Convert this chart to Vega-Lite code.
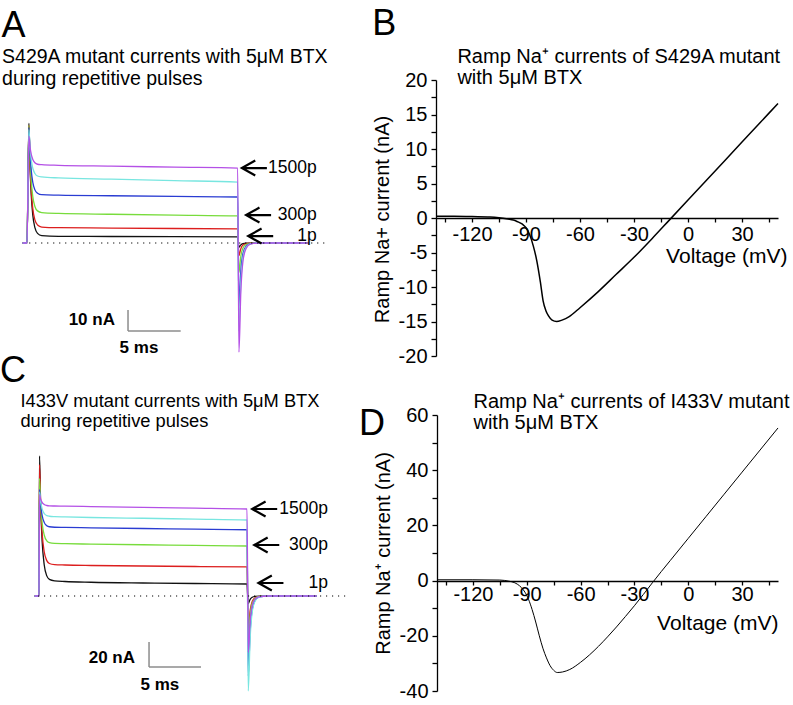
{
  "$schema": "https://vega.github.io/schema/vega-lite/v6.json",
  "width": 793,
  "height": 705,
  "autosize": {"type": "none"},
  "padding": 0,
  "background": "white",
  "config": {
    "view": {"stroke": null},
    "font": "Liberation Sans",
    "axis": {"domainColor": "black", "tickColor": "black", "labelColor": "black", "titleColor": "black", "domainWidth": 1.3, "tickWidth": 1.3, "grid": false, "labelFontSize": 20, "titleFontSize": 20, "titleFontWeight": "normal", "labelOverlap": false, "labelFlush": false, "labelBound": false, "labelFont": "Liberation Sans", "titleFont": "Liberation Sans"}
  },
  "datasets": {
    "traceA": [
      {"trace":"1","t":-0.42,"I":0},{"trace":"1","t":0,"I":0},{"trace":"1","t":0.18,"I":57},{"trace":"1","t":0.28,"I":37.4},{"trace":"1","t":0.4,"I":23.1},{"trace":"1","t":0.55,"I":13.3},{"trace":"1","t":0.75,"I":7.3},{"trace":"1","t":1.0,"I":4.6},{"trace":"1","t":1.4,"I":3.5},{"trace":"1","t":3,"I":3.2},{"trace":"1","t":8,"I":3.1},{"trace":"1","t":14,"I":3.0},{"trace":"1","t":20,"I":2.9},{"trace":"1","t":20.12,"I":-2},{"trace":"1","t":20.3,"I":-0.9},{"trace":"1","t":20.5,"I":-0.34},{"trace":"1","t":20.8,"I":-0.1},{"trace":"1","t":21.2,"I":-0.02},{"trace":"1","t":22,"I":0},{"trace":"1","t":26.7,"I":0},
      {"trace":"2","t":-0.42,"I":0},{"trace":"2","t":0,"I":0},{"trace":"2","t":0.18,"I":56},{"trace":"2","t":0.28,"I":38.3},{"trace":"2","t":0.4,"I":25.3},{"trace":"2","t":0.55,"I":16.4},{"trace":"2","t":0.75,"I":11.0},{"trace":"2","t":1.0,"I":8.6},{"trace":"2","t":1.4,"I":7.6},{"trace":"2","t":3,"I":7.3},{"trace":"2","t":8,"I":7.1},{"trace":"2","t":14,"I":6.9},{"trace":"2","t":20,"I":6.7},{"trace":"2","t":20.12,"I":-6},{"trace":"2","t":20.3,"I":-2.7},{"trace":"2","t":20.5,"I":-1.0},{"trace":"2","t":20.8,"I":-0.3},{"trace":"2","t":21.2,"I":-0.06},{"trace":"2","t":22,"I":0},{"trace":"2","t":26.7,"I":0},
      {"trace":"3","t":-0.42,"I":0},{"trace":"3","t":0,"I":0},{"trace":"3","t":0.18,"I":56},{"trace":"3","t":0.28,"I":40.8},{"trace":"3","t":0.4,"I":29.6},{"trace":"3","t":0.55,"I":22.1},{"trace":"3","t":0.75,"I":17.4},{"trace":"3","t":1.0,"I":15.3},{"trace":"3","t":1.4,"I":14.5},{"trace":"3","t":3,"I":14.1},{"trace":"3","t":8,"I":13.7},{"trace":"3","t":14,"I":13.3},{"trace":"3","t":20,"I":12.9},{"trace":"3","t":20.12,"I":-14},{"trace":"3","t":20.3,"I":-6.3},{"trace":"3","t":20.5,"I":-2.4},{"trace":"3","t":20.8,"I":-0.7},{"trace":"3","t":21.2,"I":-0.14},{"trace":"3","t":22,"I":0},{"trace":"3","t":26.7,"I":0},
      {"trace":"4","t":-0.42,"I":0},{"trace":"4","t":0,"I":0},{"trace":"4","t":0.18,"I":55},{"trace":"4","t":0.28,"I":43.3},{"trace":"4","t":0.4,"I":34.7},{"trace":"4","t":0.55,"I":28.9},{"trace":"4","t":0.75,"I":25.3},{"trace":"4","t":1.0,"I":23.7},{"trace":"4","t":1.4,"I":23.0},{"trace":"4","t":3,"I":22.8},{"trace":"4","t":8,"I":22.5},{"trace":"4","t":14,"I":22.2},{"trace":"4","t":20,"I":21.9},{"trace":"4","t":20.12,"I":-30},{"trace":"4","t":20.3,"I":-13.5},{"trace":"4","t":20.5,"I":-5.1},{"trace":"4","t":20.8,"I":-1.5},{"trace":"4","t":21.2,"I":-0.3},{"trace":"4","t":22,"I":0},{"trace":"4","t":26.7,"I":0},
      {"trace":"5","t":-0.42,"I":0},{"trace":"5","t":0,"I":0},{"trace":"5","t":0.18,"I":54},{"trace":"5","t":0.28,"I":45.8},{"trace":"5","t":0.4,"I":39.7},{"trace":"5","t":0.55,"I":35.6},{"trace":"5","t":0.75,"I":33.1},{"trace":"5","t":1.0,"I":31.9},{"trace":"5","t":1.4,"I":31.5},{"trace":"5","t":3,"I":31.0},{"trace":"5","t":8,"I":30.4},{"trace":"5","t":14,"I":29.7},{"trace":"5","t":20,"I":29.0},{"trace":"5","t":20.12,"I":-42},{"trace":"5","t":20.3,"I":-18.9},{"trace":"5","t":20.5,"I":-7.1},{"trace":"5","t":20.8,"I":-2.1},{"trace":"5","t":21.2,"I":-0.42},{"trace":"5","t":22,"I":0},{"trace":"5","t":26.7,"I":0},
      {"trace":"6","t":-0.42,"I":0},{"trace":"6","t":0,"I":0},{"trace":"6","t":0.18,"I":51},{"trace":"6","t":0.28,"I":46.0},{"trace":"6","t":0.4,"I":42.3},{"trace":"6","t":0.55,"I":39.8},{"trace":"6","t":0.75,"I":38.2},{"trace":"6","t":1.0,"I":37.5},{"trace":"6","t":1.4,"I":37.3},{"trace":"6","t":3,"I":37.0},{"trace":"6","t":8,"I":36.6},{"trace":"6","t":14,"I":36.1},{"trace":"6","t":20,"I":35.7},{"trace":"6","t":20.12,"I":-52},{"trace":"6","t":20.3,"I":-23.4},{"trace":"6","t":20.5,"I":-8.8},{"trace":"6","t":20.8,"I":-2.6},{"trace":"6","t":21.2,"I":-0.52},{"trace":"6","t":22,"I":0},{"trace":"6","t":26.7,"I":0}
    ],
    "traceC": [
      {"trace":"1","t":-0.42,"I":0},{"trace":"1","t":0,"I":0},{"trace":"1","t":0.05,"I":112},{"trace":"1","t":0.15,"I":75.5},{"trace":"1","t":0.3,"I":44},{"trace":"1","t":0.5,"I":25},{"trace":"1","t":0.75,"I":16.1},{"trace":"1","t":1.0,"I":13.3},{"trace":"1","t":1.5,"I":12.1},{"trace":"1","t":2.5,"I":11.6},{"trace":"1","t":5,"I":11.0},{"trace":"1","t":10,"I":10.4},{"trace":"1","t":15,"I":10.0},{"trace":"1","t":20,"I":9.6},{"trace":"1","t":20.12,"I":-6},{"trace":"1","t":20.3,"I":-2.7},{"trace":"1","t":20.5,"I":-1.0},{"trace":"1","t":20.8,"I":-0.3},{"trace":"1","t":21.2,"I":-0.06},{"trace":"1","t":22,"I":0},{"trace":"1","t":26.7,"I":0},
      {"trace":"2","t":-0.42,"I":0},{"trace":"2","t":0,"I":0},{"trace":"2","t":0.05,"I":105},{"trace":"2","t":0.15,"I":75.8},{"trace":"2","t":0.3,"I":50.6},{"trace":"2","t":0.5,"I":35.4},{"trace":"2","t":0.75,"I":28.3},{"trace":"2","t":1.0,"I":26.0},{"trace":"2","t":1.5,"I":25.1},{"trace":"2","t":2.5,"I":24.8},{"trace":"2","t":5,"I":24.4},{"trace":"2","t":10,"I":24.0},{"trace":"2","t":15,"I":23.6},{"trace":"2","t":20,"I":23.3},{"trace":"2","t":20.12,"I":-26},{"trace":"2","t":20.3,"I":-11.7},{"trace":"2","t":20.5,"I":-4.4},{"trace":"2","t":20.8,"I":-1.3},{"trace":"2","t":21.2,"I":-0.26},{"trace":"2","t":22,"I":0},{"trace":"2","t":26.7,"I":0},
      {"trace":"3","t":-0.42,"I":0},{"trace":"3","t":0,"I":0},{"trace":"3","t":0.05,"I":94},{"trace":"3","t":0.15,"I":75.0},{"trace":"3","t":0.3,"I":58.6},{"trace":"3","t":0.5,"I":48.8},{"trace":"3","t":0.75,"I":44.1},{"trace":"3","t":1.0,"I":42.7},{"trace":"3","t":1.5,"I":42.1},{"trace":"3","t":2.5,"I":41.9},{"trace":"3","t":5,"I":41.5},{"trace":"3","t":10,"I":41.0},{"trace":"3","t":15,"I":40.5},{"trace":"3","t":20,"I":40.0},{"trace":"3","t":20.12,"I":-35},{"trace":"3","t":20.3,"I":-15.8},{"trace":"3","t":20.5,"I":-6.0},{"trace":"3","t":20.8,"I":-1.75},{"trace":"3","t":21.2,"I":-0.35},{"trace":"3","t":22,"I":0},{"trace":"3","t":26.7,"I":0},
      {"trace":"4","t":-0.42,"I":0},{"trace":"4","t":0,"I":0},{"trace":"4","t":0.05,"I":85},{"trace":"4","t":0.15,"I":74.1},{"trace":"4","t":0.3,"I":64.6},{"trace":"4","t":0.5,"I":58.9},{"trace":"4","t":0.75,"I":56.2},{"trace":"4","t":1.0,"I":55.4},{"trace":"4","t":1.5,"I":55.0},{"trace":"4","t":2.5,"I":54.9},{"trace":"4","t":5,"I":54.5},{"trace":"4","t":10,"I":54.0},{"trace":"4","t":15,"I":53.5},{"trace":"4","t":20,"I":53.0},{"trace":"4","t":20.12,"I":-64},{"trace":"4","t":20.3,"I":-28.8},{"trace":"4","t":20.5,"I":-10.9},{"trace":"4","t":20.8,"I":-3.2},{"trace":"4","t":21.2,"I":-0.64},{"trace":"4","t":22,"I":0},{"trace":"4","t":26.7,"I":0},
      {"trace":"5","t":-0.42,"I":0},{"trace":"5","t":0,"I":0},{"trace":"5","t":0.05,"I":83},{"trace":"5","t":0.15,"I":75.9},{"trace":"5","t":0.3,"I":69.7},{"trace":"5","t":0.5,"I":66.0},{"trace":"5","t":0.75,"I":64.3},{"trace":"5","t":1.0,"I":63.8},{"trace":"5","t":1.5,"I":63.5},{"trace":"5","t":2.5,"I":63.3},{"trace":"5","t":5,"I":62.8},{"trace":"5","t":10,"I":62.2},{"trace":"5","t":15,"I":61.5},{"trace":"5","t":20,"I":60.8},{"trace":"5","t":20.12,"I":-76},{"trace":"5","t":20.3,"I":-34.2},{"trace":"5","t":20.5,"I":-12.9},{"trace":"5","t":20.8,"I":-3.8},{"trace":"5","t":21.2,"I":-0.76},{"trace":"5","t":22,"I":0},{"trace":"5","t":26.7,"I":0},
      {"trace":"6","t":-0.42,"I":0},{"trace":"6","t":0,"I":0},{"trace":"6","t":0.05,"I":81},{"trace":"6","t":0.15,"I":77.7},{"trace":"6","t":0.3,"I":74.9},{"trace":"6","t":0.5,"I":73.2},{"trace":"6","t":0.75,"I":72.4},{"trace":"6","t":1.0,"I":72.1},{"trace":"6","t":1.5,"I":72.0},{"trace":"6","t":2.5,"I":71.9},{"trace":"6","t":5,"I":71.5},{"trace":"6","t":10,"I":70.9},{"trace":"6","t":15,"I":70.3},{"trace":"6","t":20,"I":69.6},{"trace":"6","t":20.12,"I":-45},{"trace":"6","t":20.3,"I":-20.3},{"trace":"6","t":20.5,"I":-7.7},{"trace":"6","t":20.8,"I":-2.25},{"trace":"6","t":21.2,"I":-0.45},{"trace":"6","t":22,"I":0},{"trace":"6","t":26.7,"I":0}
    ],
    "ivB": [
      {"V":-140,"I":0.25},{"V":-130,"I":0.25},{"V":-120,"I":0.2},{"V":-110,"I":0.15},{"V":-105,"I":0.05},{"V":-100,"I":-0.15},{"V":-97,"I":-0.3},{"V":-95,"I":-0.5},{"V":-92,"I":-0.9},{"V":-90,"I":-1.4},{"V":-88,"I":-2.4},{"V":-86,"I":-4.0},{"V":-84,"I":-6.2},{"V":-82,"I":-9.3},{"V":-80.5,"I":-12.0},{"V":-79,"I":-13.4},{"V":-77.5,"I":-14.2},{"V":-75.5,"I":-14.8},{"V":-73,"I":-15.0},{"V":-70,"I":-14.8},{"V":-66,"I":-14.3},{"V":-60,"I":-13.0},{"V":-50,"I":-10.7},{"V":-40,"I":-8.2},{"V":-30,"I":-5.7},{"V":-20,"I":-3.0},{"V":-10,"I":-0.2},{"V":0,"I":2.6},{"V":10,"I":5.4},{"V":20,"I":8.2},{"V":30,"I":11.0},{"V":40,"I":13.8},{"V":50,"I":16.6}
    ],
    "ivD": [
      {"V":-140,"I":0.3},{"V":-120,"I":0.3},{"V":-105,"I":0.2},{"V":-100,"I":-0.2},{"V":-97,"I":-0.7},{"V":-95,"I":-1.4},{"V":-93,"I":-2.5},{"V":-91,"I":-4.2},{"V":-89,"I":-6.8},{"V":-87,"I":-10.5},{"V":-85,"I":-15},{"V":-83,"I":-20},{"V":-81,"I":-24.5},{"V":-79,"I":-28},{"V":-77,"I":-30.8},{"V":-75,"I":-32.5},{"V":-73,"I":-33.3},{"V":-70,"I":-33.1},{"V":-66,"I":-32.2},{"V":-60,"I":-29.6},{"V":-55,"I":-26.9},{"V":-50,"I":-23.8},{"V":-45,"I":-20.4},{"V":-40,"I":-16.8},{"V":-35,"I":-13.0},{"V":-30,"I":-9.1},{"V":-25,"I":-5.0},{"V":-20,"I":-0.8},{"V":-15,"I":3.3},{"V":-10,"I":7.3},{"V":0,"I":15.3},{"V":10,"I":23.3},{"V":20,"I":31.3},{"V":30,"I":39.3},{"V":40,"I":47.3},{"V":50,"I":55.3}
    ],
    "arrowsA": [
      {"label":"1500p","t":20.4,"I":35.7},{"label":"300p","t":20.8,"I":13.3},{"label":"1p","t":21.0,"I":3.3}
    ],
    "arrowsC": [
      {"label":"1500p","t":20.5,"I":69.6},{"label":"300p","t":20.7,"I":40.8},{"label":"1p","t":21.1,"I":10.4}
    ]
  },
  "layer": [
    {"data": {"name": "ivB"}, "mark": {"type": "line", "strokeWidth": 1.5, "color": "black", "interpolate": "monotone"},
     "encoding": {
       "x": {"field": "V", "type": "quantitative", "scale": {"domain": [-140,50], "range": [436,778], "nice": false, "zero": false},
             "axis": {"orient": "bottom", "offset": -487, "values": [-135,-120,-105,-90,-75,-60,-45,-30,-15,0,15,30,45], "labelExpr": "datum.value % 30 === 0 ? toString(datum.value) : ''", "tickSize": 4, "labelPadding": 2, "title": "Voltage (mV)", "titleFontSize": 21, "titleX": 787, "titleY": 44, "titleAlign": "right", "titleBaseline": "alphabetic"}},
       "y": {"field": "I", "type": "quantitative", "scale": {"domain": [-20,20], "range": [356,80], "nice": false, "zero": false},
             "axis": {"orient": "left", "offset": -436, "values": [-20,-17.5,-15,-12.5,-10,-7.5,-5,-2.5,0,2.5,5,7.5,10,12.5,15,17.5,20], "labelExpr": "datum.value % 5 === 0 ? toString(datum.value) : ''", "tickSize": 5, "labelPadding": 4, "title": "Ramp Na+ current (nA)", "titleX": -48, "titleY": 219, "titleAngle": -90, "titleBaseline": "alphabetic", "titleAlign": "center"}}}},
    {"data": {"name": "ivD"}, "mark": {"type": "line", "strokeWidth": 1, "color": "black", "interpolate": "monotone"},
     "encoding": {
       "x": {"field": "V", "type": "quantitative", "scale": {"domain": [-140,50], "range": [437,778], "nice": false, "zero": false},
             "axis": {"orient": "bottom", "offset": -124, "values": [-135,-120,-105,-90,-75,-60,-45,-30,-15,0,15,30,45], "labelExpr": "datum.value % 30 === 0 ? toString(datum.value) : ''", "tickSize": 4, "labelPadding": -1, "title": "Voltage (mV)", "titleFontSize": 21, "titleX": 778, "titleY": 48, "titleAlign": "right", "titleBaseline": "alphabetic"}},
       "y": {"field": "I", "type": "quantitative", "scale": {"domain": [-40,60], "range": [691,415], "nice": false, "zero": false},
             "axis": {"orient": "left", "offset": -437, "values": [-40,-30,-20,-10,0,10,20,30,40,50,60], "labelExpr": "datum.value % 20 === 0 ? toString(datum.value) : ''", "tickSize": 5, "labelPadding": 4, "title": "Ramp Na⁺ current (nA)", "titleX": -48, "titleY": 553, "titleAngle": -90, "titleBaseline": "alphabetic", "titleAlign": "center"}}}},
    {"data": {"name": "traceA"}, "mark": {"type": "line", "strokeWidth": 1.3, "interpolate": "monotone"},
     "encoding": {
       "x": {"field": "t", "type": "quantitative", "scale": {"domain": [0,30], "range": [27,343], "nice": false, "zero": false}, "axis": null},
       "y": {"field": "I", "type": "quantitative", "scale": {"domain": [-50,50], "range": [348,138], "nice": false, "zero": false}, "axis": null},
       "color": {"field": "trace", "type": "nominal", "scale": {"domain": ["1","2","3","4","5","6"], "range": ["#111111","#dc1e1e","#78dc3c","#2a3cd2","#78e6e0","#b450e6"]}, "legend": null}}},
    {"data": {"values": [{}]}, "mark": {"type": "rule", "strokeDash": [1.2,4.8], "strokeWidth": 1.2, "color": "black"},
     "encoding": {
       "x": {"datum": 0.2, "type": "quantitative", "scale": {"domain": [0,30], "range": [27,343], "nice": false, "zero": false}, "axis": null},
       "x2": {"datum": 28.6},
       "y": {"datum": 0, "type": "quantitative", "scale": {"domain": [-50,50], "range": [348,138], "nice": false, "zero": false}, "axis": null}}},
    {"data": {"values": [{}]}, "mark": {"type": "rule", "strokeWidth": 1.5, "color": "#8c8c8c"},
     "encoding": {
       "x": {"datum": 9.59, "type": "quantitative", "scale": {"domain": [0,30], "range": [27,343], "nice": false, "zero": false}, "axis": null},
       "y": {"datum": -41.9, "type": "quantitative", "scale": {"domain": [-50,50], "range": [348,138], "nice": false, "zero": false}, "axis": null},
       "y2": {"datum": -31.9}}},
    {"data": {"values": [{}]}, "mark": {"type": "rule", "strokeWidth": 1.5, "color": "#8c8c8c"},
     "encoding": {
       "x": {"datum": 9.59, "type": "quantitative", "scale": {"domain": [0,30], "range": [27,343], "nice": false, "zero": false}, "axis": null},
       "x2": {"datum": 14.59},
       "y": {"datum": -41.9, "type": "quantitative", "scale": {"domain": [-50,50], "range": [348,138], "nice": false, "zero": false}, "axis": null}}},
    {"data": {"name": "arrowsA"}, "mark": {"type": "point", "shape": "M1.07,-0.6L0,0L1.07,0.6M0,0L2,0", "size": 625, "filled": false, "strokeWidth": 2.2, "color": "black", "opacity": 1},
     "encoding": {
       "x": {"field": "t", "type": "quantitative", "scale": {"domain": [0,30], "range": [27,343], "nice": false, "zero": false}, "axis": null},
       "y": {"field": "I", "type": "quantitative", "scale": {"domain": [-50,50], "range": [348,138], "nice": false, "zero": false}, "axis": null}}},
    {"data": {"name": "arrowsA"}, "mark": {"type": "text", "align": "right", "baseline": "middle", "fontSize": 17.5, "color": "black"},
     "encoding": {
       "x": {"datum": 27.5, "type": "quantitative", "scale": {"domain": [0,30], "range": [27,343], "nice": false, "zero": false}, "axis": null},
       "y": {"field": "I", "type": "quantitative", "scale": {"domain": [-50,50], "range": [348,138], "nice": false, "zero": false}, "axis": null},
       "text": {"field": "label"}}},
    {"data": {"values": [{}]}, "mark": {"type": "text", "text": "10 nA", "align": "right", "baseline": "alphabetic", "fontSize": 17, "fontWeight": "bold", "color": "black"},
     "encoding": {
       "x": {"datum": 8.35, "type": "quantitative", "scale": {"domain": [0,30], "range": [27,343], "nice": false, "zero": false}, "axis": null},
       "y": {"datum": -39.05, "type": "quantitative", "scale": {"domain": [-50,50], "range": [348,138], "nice": false, "zero": false}, "axis": null}}},
    {"data": {"values": [{}]}, "mark": {"type": "text", "text": "5 ms", "align": "center", "baseline": "alphabetic", "fontSize": 17, "fontWeight": "bold", "color": "black"},
     "encoding": {
       "x": {"datum": 10.63, "type": "quantitative", "scale": {"domain": [0,30], "range": [27,343], "nice": false, "zero": false}, "axis": null},
       "y": {"datum": -52.4, "type": "quantitative", "scale": {"domain": [-50,50], "range": [348,138], "nice": false, "zero": false}, "axis": null}}},
    {"data": {"values": [{}]}, "mark": {"type": "text", "text": "A", "align": "left", "baseline": "alphabetic", "fontSize": 36, "color": "black"},
     "encoding": {
       "x": {"datum": -2.42, "type": "quantitative", "scale": {"domain": [0,30], "range": [27,343], "nice": false, "zero": false}, "axis": null},
       "y": {"datum": 98.2, "type": "quantitative", "scale": {"domain": [-50,50], "range": [348,138], "nice": false, "zero": false}, "axis": null}}},
    {"data": {"values": [{}]}, "mark": {"type": "text", "text": ["S429A mutant currents with 5μM BTX", "during repetitive pulses"], "lineHeight": 21.5, "align": "left", "baseline": "alphabetic", "fontSize": 19.5, "color": "black"},
     "encoding": {
       "x": {"datum": -2.37, "type": "quantitative", "scale": {"domain": [0,30], "range": [27,343], "nice": false, "zero": false}, "axis": null},
       "y": {"datum": 85.7, "type": "quantitative", "scale": {"domain": [-50,50], "range": [348,138], "nice": false, "zero": false}, "axis": null}}},
    {"data": {"values": [{}]}, "mark": {"type": "text", "text": "B", "align": "left", "baseline": "alphabetic", "fontSize": 36, "color": "black"},
     "encoding": {
       "x": {"datum": -175.4, "type": "quantitative", "scale": {"domain": [-140,50], "range": [436,778], "nice": false, "zero": false}, "axis": null},
       "y": {"datum": 26.52, "type": "quantitative", "scale": {"domain": [-20,20], "range": [356,80], "nice": false, "zero": false}, "axis": null}}},
    {"data": {"values": [{}]}, "mark": {"type": "text", "text": ["Ramp Na⁺ currents of S429A mutant", "with 5μM BTX"], "lineHeight": 21, "align": "left", "baseline": "alphabetic", "fontSize": 20, "color": "black"},
     "encoding": {
       "x": {"datum": -128.1, "type": "quantitative", "scale": {"domain": [-140,50], "range": [436,778], "nice": false, "zero": false}, "axis": null},
       "y": {"datum": 22.46, "type": "quantitative", "scale": {"domain": [-20,20], "range": [356,80], "nice": false, "zero": false}, "axis": null}}},
    {"data": {"name": "traceC"}, "mark": {"type": "line", "strokeWidth": 1.3, "interpolate": "monotone"},
     "encoding": {
       "x": {"field": "t", "type": "quantitative", "scale": {"domain": [0,30], "range": [39,351], "nice": false, "zero": false}, "axis": null},
       "y": {"field": "I", "type": "quantitative", "scale": {"domain": [-80,120], "range": [696,446], "nice": false, "zero": false}, "axis": null},
       "color": {"field": "trace", "type": "nominal", "scale": {"domain": ["1","2","3","4","5","6"], "range": ["#111111","#dc1e1e","#78dc3c","#2a3cd2","#78e6e0","#b450e6"]}, "legend": null}}},
    {"data": {"values": [{}]}, "mark": {"type": "rule", "strokeDash": [1.2,4.8], "strokeWidth": 1.2, "color": "black"},
     "encoding": {
       "x": {"datum": -0.1, "type": "quantitative", "scale": {"domain": [0,30], "range": [39,351], "nice": false, "zero": false}, "axis": null},
       "x2": {"datum": 29.7},
       "y": {"datum": 0, "type": "quantitative", "scale": {"domain": [-80,120], "range": [696,446], "nice": false, "zero": false}, "axis": null}}},
    {"data": {"values": [{}]}, "mark": {"type": "rule", "strokeWidth": 1.5, "color": "#8c8c8c"},
     "encoding": {
       "x": {"datum": 10.58, "type": "quantitative", "scale": {"domain": [0,30], "range": [39,351], "nice": false, "zero": false}, "axis": null},
       "y": {"datum": -56.8, "type": "quantitative", "scale": {"domain": [-80,120], "range": [696,446], "nice": false, "zero": false}, "axis": null},
       "y2": {"datum": -36.8}}},
    {"data": {"values": [{}]}, "mark": {"type": "rule", "strokeWidth": 1.5, "color": "#8c8c8c"},
     "encoding": {
       "x": {"datum": 10.58, "type": "quantitative", "scale": {"domain": [0,30], "range": [39,351], "nice": false, "zero": false}, "axis": null},
       "x2": {"datum": 15.58},
       "y": {"datum": -56.8, "type": "quantitative", "scale": {"domain": [-80,120], "range": [696,446], "nice": false, "zero": false}, "axis": null}}},
    {"data": {"name": "arrowsC"}, "mark": {"type": "point", "shape": "M1.07,-0.6L0,0L1.07,0.6M0,0L2,0", "size": 625, "filled": false, "strokeWidth": 2.2, "color": "black", "opacity": 1},
     "encoding": {
       "x": {"field": "t", "type": "quantitative", "scale": {"domain": [0,30], "range": [39,351], "nice": false, "zero": false}, "axis": null},
       "y": {"field": "I", "type": "quantitative", "scale": {"domain": [-80,120], "range": [696,446], "nice": false, "zero": false}, "axis": null}}},
    {"data": {"name": "arrowsC"}, "mark": {"type": "text", "align": "right", "baseline": "middle", "fontSize": 17.5, "color": "black"},
     "encoding": {
       "x": {"datum": 27.79, "type": "quantitative", "scale": {"domain": [0,30], "range": [39,351], "nice": false, "zero": false}, "axis": null},
       "y": {"field": "I", "type": "quantitative", "scale": {"domain": [-80,120], "range": [696,446], "nice": false, "zero": false}, "axis": null},
       "text": {"field": "label"}}},
    {"data": {"values": [{}]}, "mark": {"type": "text", "text": "20 nA", "align": "right", "baseline": "alphabetic", "fontSize": 17, "fontWeight": "bold", "color": "black"},
     "encoding": {
       "x": {"datum": 9.23, "type": "quantitative", "scale": {"domain": [0,30], "range": [39,351], "nice": false, "zero": false}, "axis": null},
       "y": {"datum": -53.6, "type": "quantitative", "scale": {"domain": [-80,120], "range": [696,446], "nice": false, "zero": false}, "axis": null}}},
    {"data": {"values": [{}]}, "mark": {"type": "text", "text": "5 ms", "align": "center", "baseline": "alphabetic", "fontSize": 17, "fontWeight": "bold", "color": "black"},
     "encoding": {
       "x": {"datum": 11.63, "type": "quantitative", "scale": {"domain": [0,30], "range": [39,351], "nice": false, "zero": false}, "axis": null},
       "y": {"datum": -75.2, "type": "quantitative", "scale": {"domain": [-80,120], "range": [696,446], "nice": false, "zero": false}, "axis": null}}},
    {"data": {"values": [{}]}, "mark": {"type": "text", "text": "C", "align": "left", "baseline": "alphabetic", "fontSize": 36, "color": "black"},
     "encoding": {
       "x": {"datum": -3.75, "type": "quantitative", "scale": {"domain": [0,30], "range": [39,351], "nice": false, "zero": false}, "axis": null},
       "y": {"datum": 171.2, "type": "quantitative", "scale": {"domain": [-80,120], "range": [696,446], "nice": false, "zero": false}, "axis": null}}},
    {"data": {"values": [{}]}, "mark": {"type": "text", "text": ["I433V mutant currents with 5μM BTX", "during repetitive pulses"], "lineHeight": 20.5, "align": "left", "baseline": "alphabetic", "fontSize": 18.3, "color": "black"},
     "encoding": {
       "x": {"datum": -1.79, "type": "quantitative", "scale": {"domain": [0,30], "range": [39,351], "nice": false, "zero": false}, "axis": null},
       "y": {"datum": 151.4, "type": "quantitative", "scale": {"domain": [-80,120], "range": [696,446], "nice": false, "zero": false}, "axis": null}}},
    {"data": {"values": [{}]}, "mark": {"type": "text", "text": "D", "align": "left", "baseline": "alphabetic", "fontSize": 36, "color": "black"},
     "encoding": {
       "x": {"datum": -183.5, "type": "quantitative", "scale": {"domain": [-140,50], "range": [437,778], "nice": false, "zero": false}, "axis": null},
       "y": {"datum": 52.9, "type": "quantitative", "scale": {"domain": [-40,60], "range": [691,415], "nice": false, "zero": false}, "axis": null}}},
    {"data": {"values": [{}]}, "mark": {"type": "text", "text": ["Ramp Na⁺ currents of I433V mutant", "with 5μM BTX"], "lineHeight": 21, "align": "left", "baseline": "alphabetic", "fontSize": 20, "color": "black"},
     "encoding": {
       "x": {"datum": -119.7, "type": "quantitative", "scale": {"domain": [-140,50], "range": [437,778], "nice": false, "zero": false}, "axis": null},
       "y": {"datum": 62.7, "type": "quantitative", "scale": {"domain": [-40,60], "range": [691,415], "nice": false, "zero": false}, "axis": null}}}
  ],
  "resolve": {"scale": {"x": "independent", "y": "independent"}}
}
